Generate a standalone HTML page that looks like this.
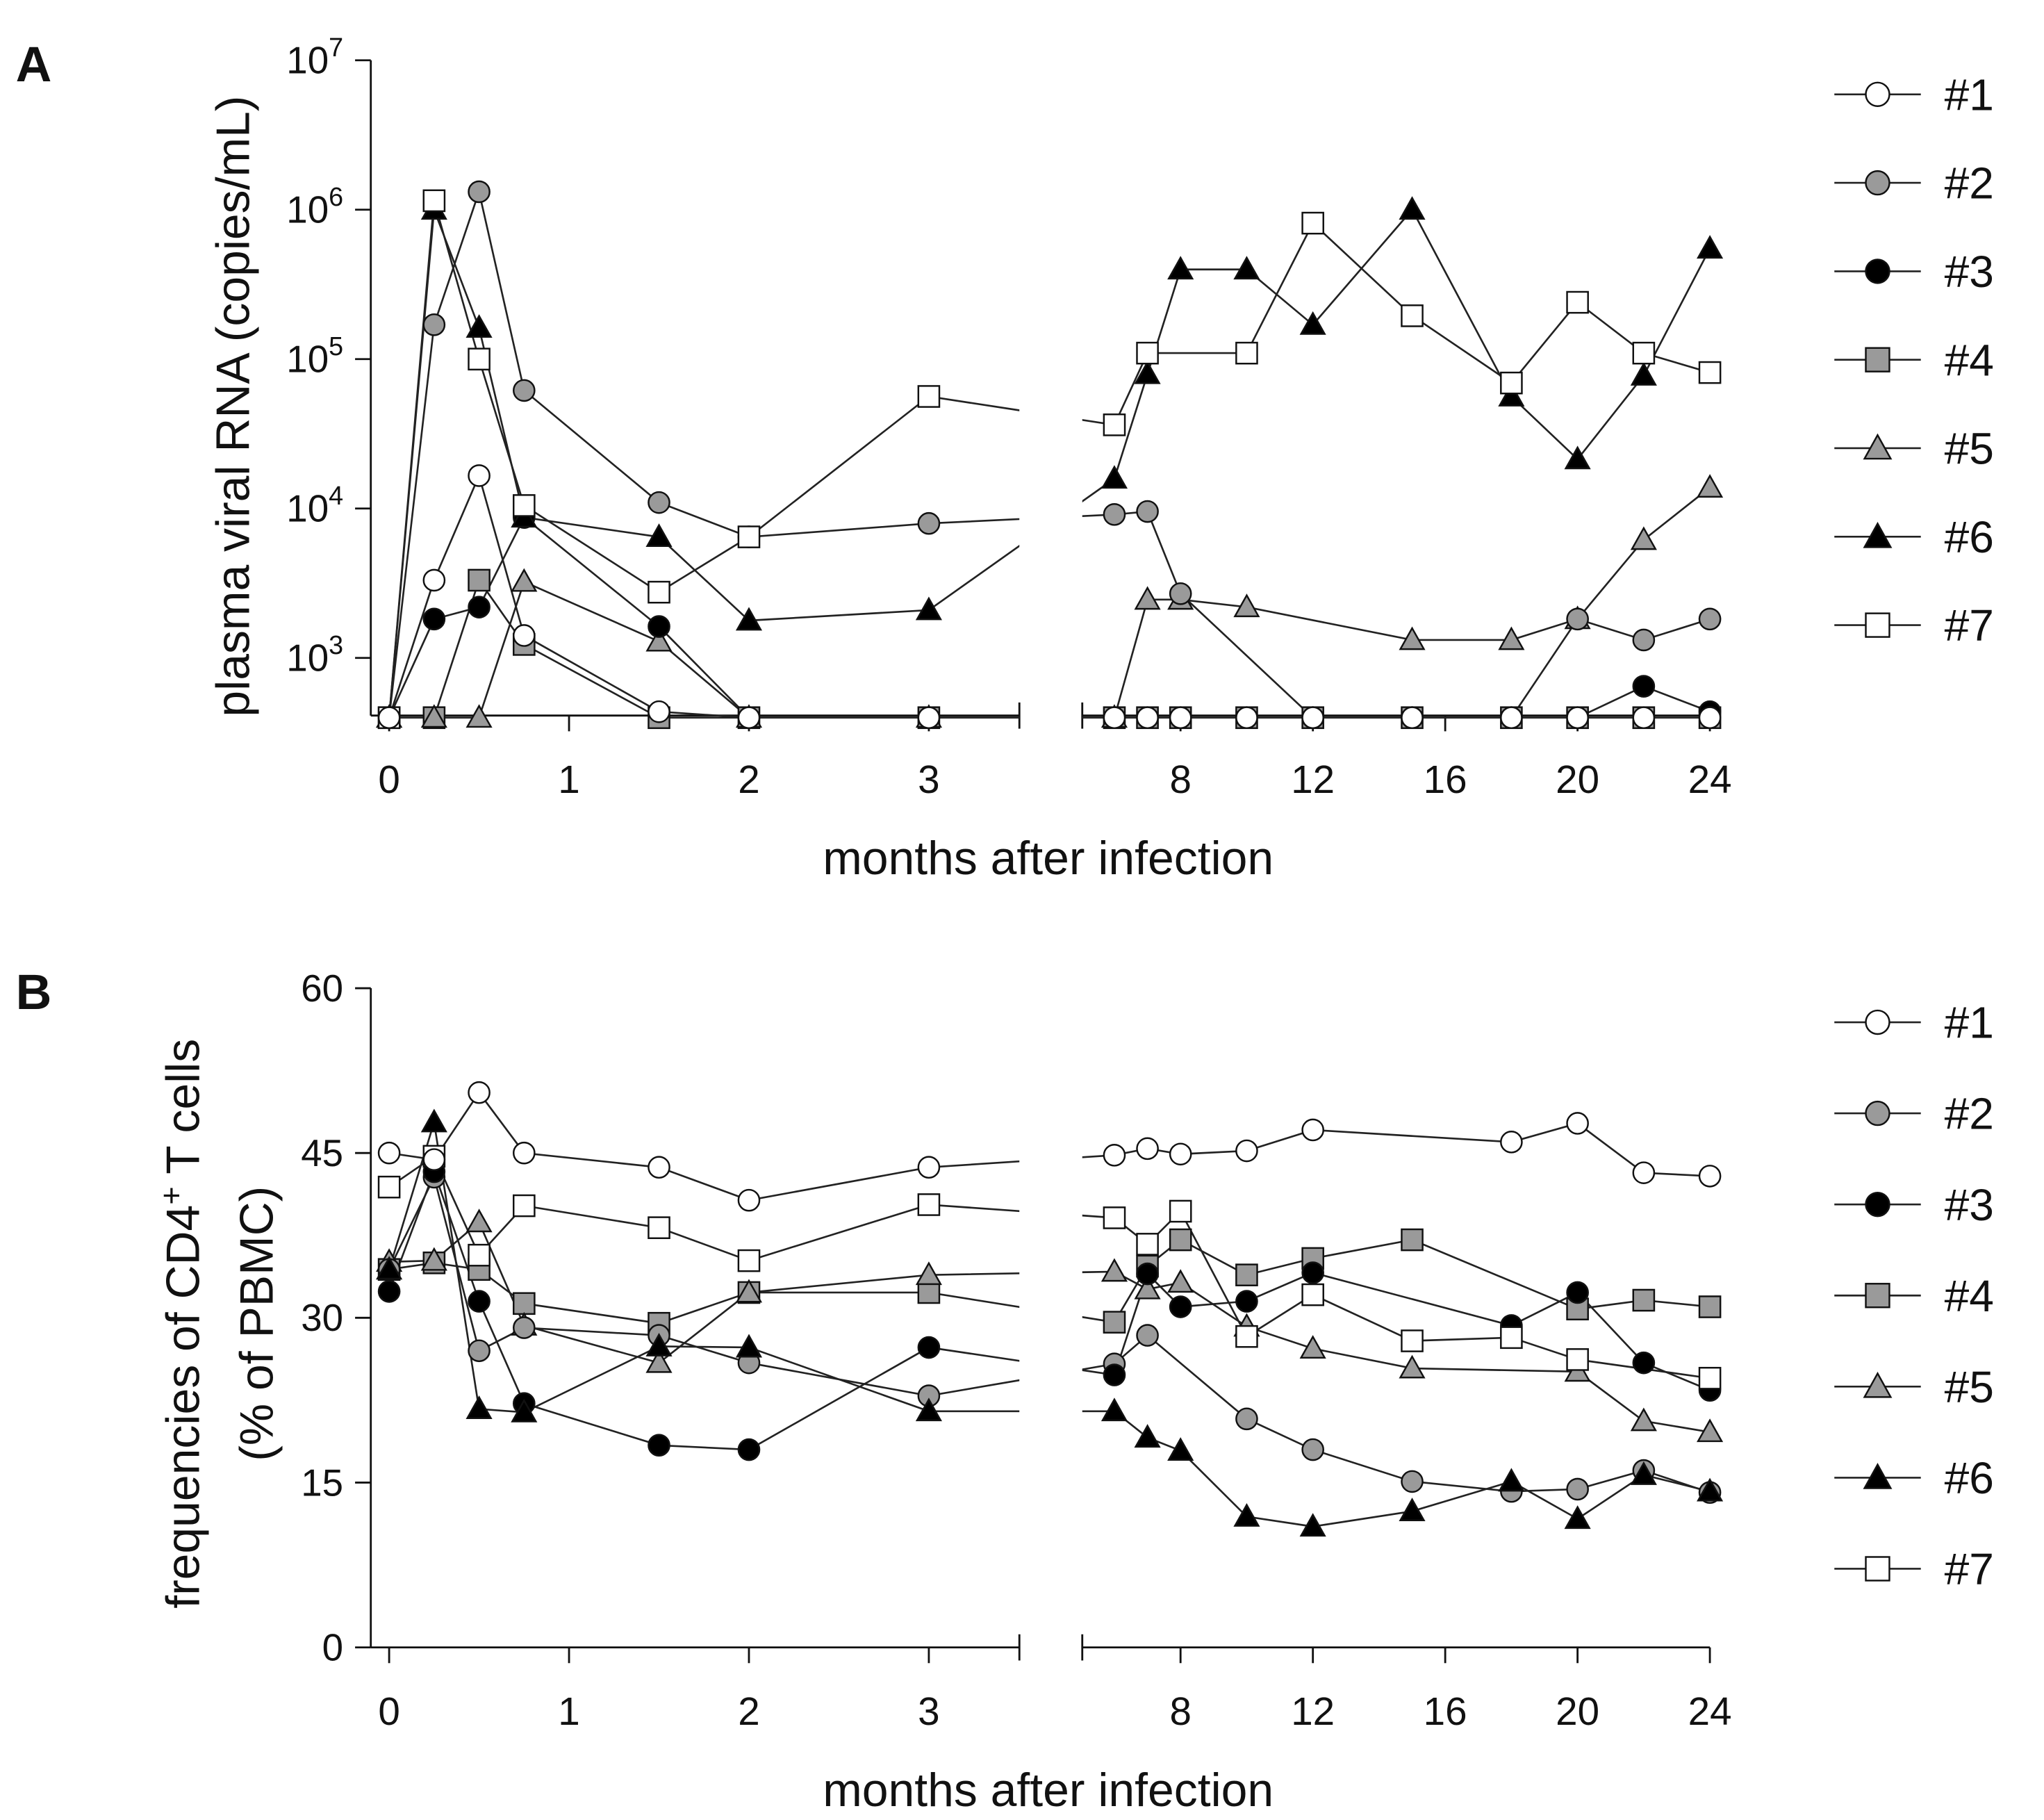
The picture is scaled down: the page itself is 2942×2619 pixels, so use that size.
<!DOCTYPE html>
<html><head><meta charset="utf-8"><style>
html,body{margin:0;padding:0;background:#fff}
svg{display:block}
text{font-family:"Liberation Sans",Arial,sans-serif;fill:#111}
</style></head><body>
<svg id="chart" width="2942" height="2619" viewBox="0 0 1560 1388.7" preserveAspectRatio="none" xmlns="http://www.w3.org/2000/svg">
<defs>
<clipPath id="cA1"><rect x="280" y="0" width="498" height="700"/></clipPath>
<clipPath id="cA2"><rect x="826" y="0" width="500" height="700"/></clipPath>
<clipPath id="cB1"><rect x="280" y="700" width="498" height="700"/></clipPath>
<clipPath id="cB2"><rect x="826" y="700" width="500" height="700"/></clipPath>
</defs>
</svg>
<script>
// ---- data ----
const monthsA = [0,0.25,0.5,0.75,1.5,2,3,6,7,8,10,12,15,18,20,22,24];
const seriesNames = ['#1','#2','#3','#4','#5','#6','#7'];
// Panel A: log10 viral RNA (null = no measurement), 2.6 = detection limit
const a1 = [2.6,3.52,4.22,3.15,2.64,2.6,2.6,2.6,2.6,2.6,2.6,2.6,2.6,2.6,2.6,2.6,2.6];
const a2 = [2.6,5.23,6.12,4.79,4.04,3.81,3.90,3.96,3.98,3.43,null,2.6,2.6,2.6,3.26,3.12,3.26];
const a3 = [2.6,3.26,3.34,3.94,3.21,2.6,2.6,2.6,2.6,2.6,2.6,2.6,2.6,2.6,2.6,2.81,2.64];
const a4 = [2.6,2.6,3.52,3.09,2.6,2.6,2.6,2.6,2.6,2.6,2.6,2.6,2.6,2.6,2.6,2.6,2.6];
const a5 = [2.6,2.6,2.6,3.51,3.11,2.6,2.6,2.6,3.39,3.39,3.34,null,3.12,3.12,3.26,3.79,4.14];
const a6 = [2.6,6.0,5.21,3.94,3.81,3.25,3.32,4.2,4.9,5.6,5.6,5.23,6.0,4.75,4.33,4.89,5.74];
const a7 = [2.6,6.06,5.0,4.02,3.44,3.81,4.75,4.56,5.04,null,5.04,5.91,5.29,4.84,5.38,5.04,4.91];
// Panel B: % CD4+ T cells
const b1 = [45,44.4,50.5,45,43.7,40.7,43.7,44.8,45.4,44.9,45.2,47.1,null,46,47.7,43.2,42.9];
const b2 = [34.4,42.8,27,29.1,28.4,25.9,22.9,25.8,28.4,null,20.8,18,15.1,14.2,14.4,16.1,14.1];
const b3 = [32.4,43.3,31.5,22.2,18.4,18,27.3,24.8,34,31,31.5,34.1,null,29.3,32.3,25.9,23.4];
const b4 = [34.4,35,34.4,31.3,29.5,32.3,32.3,29.6,34.7,37.1,33.9,35.4,37.1,null,30.8,31.6,31];
const b5 = [35.1,35.2,38.7,29.3,25.9,32.3,33.9,34.2,32.6,33.2,29.2,27.2,25.4,null,25.1,20.6,19.6];
const b6 = [34.4,47.8,21.7,21.4,27.4,27.3,21.5,21.5,19.1,17.9,11.9,11,12.4,15.1,11.7,15.7,14.2];
const b7 = [41.9,44.7,35.7,40.2,38.2,35.2,40.3,39.1,36.7,39.7,28.3,32.1,27.9,28.2,26.2,null,24.5];
const ticksX1 = [0,1,2,3];
const ticksX2 = [8,12,16,20,24];
const ticksYA = [3,4,5,6,7];
const ticksYB = [0,15,30,45,60];

const NS='http://www.w3.org/2000/svg';
const svg=document.getElementById('chart');
function mk(tag,attrs,parent){const e=document.createElementNS(NS,tag);for(const k in attrs)e.setAttribute(k,attrs[k]);(parent||svg).appendChild(e);return e;}
function xS(m){return m<=3.6 ? 297+m*137.3 : 901+(m-8)*25.25;}
function yA(v){return 46+(7-v)*114;}
function yB(v){return 1257-v*8.383;}

const styles=[
 {shape:'circle',fill:'#fff'},{shape:'circle',fill:'#9a9a9a'},{shape:'circle',fill:'#000'},
 {shape:'square',fill:'#9a9a9a'},{shape:'tri',fill:'#9a9a9a'},{shape:'tri',fill:'#000'},{shape:'square',fill:'#fff'}];
const drawOrder=[3,4,1,2,5,6,0];

function marker(g,st,x,y,r){
  r=r||8;
  if(st.shape==='circle') return mk('circle',{cx:x,cy:y,r:r,fill:st.fill,stroke:'#111','stroke-width':1.3},g);
  if(st.shape==='square') return mk('rect',{x:x-r,y:y-r,width:2*r,height:2*r,fill:st.fill,stroke:'#111','stroke-width':1.3},g);
  return mk('polygon',{points:`${x},${y-r-1} ${x-r-1},${y+r-1} ${x+r+1},${y+r-1}`,fill:st.fill,stroke:'#111','stroke-width':1.3},g);
}

function axes(panel,yF,ticks,isLog,axisY,top){
  const g=mk('g',{});
  
  
  mk('line',{x1:283,y1:top,x2:283,y2:axisY,stroke:'#111','stroke-width':1.5},g);
  ticks.forEach(t=>{
    const y=yF(t);
    mk('line',{x1:271,y1:y,x2:283,y2:y,stroke:'#111','stroke-width':1.5},g);
    const tx=mk('text',{x:262,y:y+10,'font-size':29,'text-anchor':'end'},g);
    
    
    if(isLog){tx.textContent='10';const s=mk('tspan',{dy:-13,'font-size':20},tx);s.textContent=String(t);}
    else tx.textContent=String(t);
  });
  mk('line',{x1:283,y1:axisY,x2:778,y2:axisY,stroke:'#111','stroke-width':1.5},g);
  mk('line',{x1:778,y1:axisY-10,x2:778,y2:axisY+10,stroke:'#111','stroke-width':1.5},g);
  mk('line',{x1:826,y1:axisY,x2:1305,y2:axisY,stroke:'#111','stroke-width':1.5},g);
  mk('line',{x1:826,y1:axisY-10,x2:826,y2:axisY+10,stroke:'#111','stroke-width':1.5},g);
  ticksX1.concat(ticksX2).forEach(t=>{
    const x=xS(t);
    mk('line',{x1:x,y1:axisY,x2:x,y2:axisY+12,stroke:'#111','stroke-width':1.5},g);
    const tx=mk('text',{x:x,y:axisY+59,'font-size':30,'text-anchor':'middle'},g);
    
    
    tx.textContent=String(t);
  });
  const tt=mk('text',{x:800,y:axisY+121,'font-size':36,'text-anchor':'middle'},g);
  
  
  tt.textContent='months after infection';
}

function series(panel,arrs,yF,clips){
  arrs.forEach((arr,i)=>{
    const g=mk('g',{});
    
    
    const pts=[];
    arr.forEach((v,j)=>{if(v!==null)pts.push([xS(monthsA[j]),yF(v)]);});
    const d=pts.map(p=>p[0].toFixed(1)+','+p[1].toFixed(1)).join(' ');
    clips.forEach(c=>mk('polyline',{points:d,fill:'none',stroke:'#222','stroke-width':1.4,'clip-path':'url(#'+c+')'},g));
  });
  drawOrder.forEach(i=>{
    const arr=arrs[i];
    arr.forEach((v,j)=>{if(v!==null){const m=marker(svg,styles[i],xS(monthsA[j]),yF(v));
      
      }});
  });
}

function legend(panel,y0,dy){
  seriesNames.forEach((n,i)=>{
    const g=mk('g',{});
    
    
    const y=y0+i*dy;
    mk('line',{x1:1400,y1:y,x2:1466,y2:y,stroke:'#222','stroke-width':1.4},g);
    marker(g,styles[i],1433,y,9);
    const t=mk('text',{x:1484,y:y+12,'font-size':34},g);
    t.textContent=n;
  });
}

// Panel A
axes('panel-a',yA,ticksYA,true,546,46);
series('panel-a',[a1,a2,a3,a4,a5,a6,a7],yA,['cA1','cA2']);
legend('a',72,67.5);
let t=mk('text',{x:12,y:62,'font-size':38,'font-weight':'bold'});t.textContent='A';

t=mk('text',{x:0,y:0,'font-size':36,'text-anchor':'middle',transform:'translate(190,310) rotate(-90)'});
t.textContent='plasma viral RNA (copies/mL)';


// Panel B
axes('panel-b',yB,ticksYB,false,1257,754);
series('panel-b',[b1,b2,b3,b4,b5,b6,b7],yB,['cB1','cB2']);
legend('b',780,69.5);
t=mk('text',{x:12,y:770,'font-size':38,'font-weight':'bold'});t.textContent='B';

t=mk('text',{x:0,y:0,'font-size':36,'text-anchor':'middle',transform:'translate(152,1010) rotate(-90)'});
t.textContent='frequencies of CD4';
const sp=mk('tspan',{dy:-13,'font-size':24},t);sp.textContent='+';
const sp2=mk('tspan',{dy:13},t);sp2.textContent=' T cells';

t=mk('text',{x:0,y:0,'font-size':36,'text-anchor':'middle',transform:'translate(208,1010) rotate(-90)'});
t.textContent='(% of PBMC)';

</script>
</body></html>
